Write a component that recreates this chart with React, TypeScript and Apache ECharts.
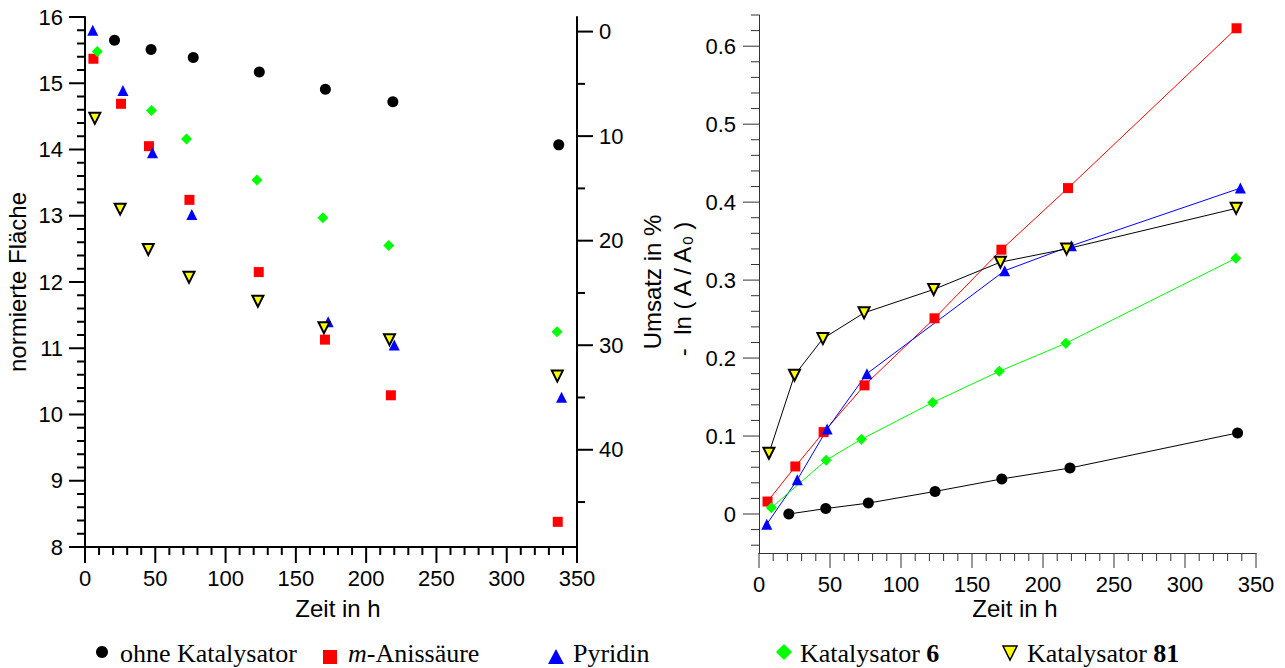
import { useEffect, useRef } from 'react';
import * as echarts from 'echarts';

// ---- data ----
const timeOhne = [21, 47, 77, 124, 171, 219, 337];
const flaecheOhne = [15.65, 15.51, 15.39, 15.17, 14.91, 14.72, 14.07];
const lnOhne = [0.0, 0.007, 0.014, 0.029, 0.045, 0.059, 0.104];

const timeAnis = [6, 25.6, 45.5, 74.3, 123.6, 170.7, 217.6, 336.3];
const flaecheAnis = [15.37, 14.69, 14.05, 13.24, 12.15, 11.13, 10.29, 8.38];
const lnAnis = [0.016, 0.061, 0.105, 0.165, 0.251, 0.339, 0.418, 0.623];

const timePyr = [5.5, 27, 48, 76, 173, 220, 339];
const flaechePyr = [15.8, 14.89, 13.95, 13.02, 11.4, 11.05, 10.26];
const lnPyr = [-0.013, 0.044, 0.109, 0.18, 0.312, 0.344, 0.418];

const timeKat6 = [8.7, 47.3, 72.2, 122.3, 169.2, 216.1, 335.8];
const flaecheKat6 = [15.48, 14.59, 14.16, 13.54, 12.97, 12.55, 11.25];
const lnKat6 = [0.008, 0.069, 0.096, 0.143, 0.183, 0.219, 0.328];

const timeKat81 = [7, 25, 45, 74, 123, 170, 216.6, 336];
const flaecheKat81 = [14.47, 13.1, 12.49, 12.07, 11.71, 11.31, 11.13, 10.58];
const lnKat81 = [0.078, 0.178, 0.225, 0.258, 0.288, 0.323, 0.34, 0.392];

// ---- tick labels ----
const zeitLabels = [0, 50, 100, 150, 200, 250, 300, 350];
const flaecheLabels = [8, 9, 10, 11, 12, 13, 14, 15, 16];
const umsatzLabels = [0, 10, 20, 30, 40];
const lnLabels = [0, 0.1, 0.2, 0.3, 0.4, 0.5, 0.6];

// minor tick positions (axis decoration only)
const minorTicks = (from: number, to: number, step: number, every: number) => {
  const out: number[] = [];
  const n = Math.round((to - from) / step);
  for (let i = 0; i <= n; i++) {
    const v = Math.round((from + i * step) * 1e6) / 1e6;
    if (Math.abs(Math.round(v / every) * every - v) > 1e-6) out.push(v);
  }
  return out;
};
const zeitMinor = minorTicks(0, 350, 10, 50);
const flaecheMinor = minorTicks(8, 16, 0.2, 1);
const umsatzMinor = minorTicks(0, 45, 5, 10);
const lnMinor = minorTicks(-0.04, 0.64, 0.02, 0.1);

const zip = (a: number[], b: number[]) => a.map((v, i) => [v, b[i]]);

const SANS = 'Liberation Sans, Arial, sans-serif';
const SERIF = 'Liberation Serif, Times New Roman, serif';

const styles = [
  { name: 'ohne Katalysator', symbol: 'circle', size: 11, color: '#000000', line: '#000000', rotate: 0, border: 0 },
  { name: 'm-Anissäure', symbol: 'rect', size: 10, color: '#ff0000', line: '#ff0000', rotate: 0, border: 0 },
  { name: 'Pyridin', symbol: 'triangle', size: 11, color: '#0000ff', line: '#0000ff', rotate: 0, border: 0 },
  { name: 'Katalysator 6', symbol: 'diamond', size: 11, color: '#00ff00', line: '#00ff00', rotate: 0, border: 0 },
  { name: 'Katalysator 81', symbol: 'triangle', size: 11, color: '#ffff00', line: '#000000', rotate: 180, border: 2 },
];

const leftData = [
  zip(timeOhne, flaecheOhne),
  zip(timeAnis, flaecheAnis),
  zip(timePyr, flaechePyr),
  zip(timeKat6, flaecheKat6),
  zip(timeKat81, flaecheKat81),
];
const rightData = [
  zip(timeOhne, lnOhne),
  zip(timeAnis, lnAnis),
  zip(timePyr, lnPyr),
  zip(timeKat6, lnKat6),
  zip(timeKat81, lnKat81),
];

// axis ranges
const ZEIT_MIN = 0, ZEIT_MAX = 350;
const FL_MIN = 8, FL_MAX = 16;
const UM_MIN = -1.394, UM_MAX = 49.3;
const LN_MIN = -0.05, LN_MAX = 0.64;

// grid rectangles
const GL = { left: 85, top: 17, width: 492, height: 530 };
const GR = { left: 759, top: 15, width: 497, height: 538 };

export default function App() {
  const ref = useRef<HTMLDivElement>(null);
  const overlayRef = useRef<HTMLDivElement>(null);

  useEffect(() => {
    if (!ref.current || !overlayRef.current) return;
    const chart = echarts.init(ref.current, undefined, { renderer: 'svg' });
    const overlay = echarts.init(overlayRef.current, undefined, { renderer: 'svg' });

    const BLK = { color: '#000', width: 2 };
    const GRY = { color: '#333', width: 1 };
    const lbl = (margin: number, values: number[], extra: any = {}) => ({
      fontSize: 22,
      color: '#000',
      fontFamily: SANS,
      margin,
      customValues: values,
      ...extra,
    });

    const baseAxis = (o: any) => ({
      type: 'value',
      splitLine: { show: false },
      axisTick: { show: false },
      ...o,
    });

    // linear axis mappings matching the grids above (for the tick marks)
    const lin = (d0: number, d1: number, p0: number, p1: number) => (v: number) =>
      p0 + ((v - d0) / (d1 - d0)) * (p1 - p0);
    const xL = lin(ZEIT_MIN, ZEIT_MAX, GL.left, GL.left + GL.width);
    const yF = lin(FL_MIN, FL_MAX, GL.top + GL.height, GL.top);
    const yU = lin(UM_MIN, UM_MAX, GL.top, GL.top + GL.height);
    const xR = lin(ZEIT_MIN, ZEIT_MAX, GR.left, GR.left + GR.width);
    const yLn = lin(LN_MIN, LN_MAX, GR.top + GR.height, GR.top);

    const mainTicks: any[] = [];
    const overlayTicks: any[] = [];
    const vt = (arr: any[], x: number, y: number, len: number, st: any) =>
      arr.push({
        type: 'line', silent: true,
        shape: { x1: x, y1: y, x2: x, y2: y + len },
        style: { stroke: st.color, lineWidth: st.width },
      });
    const ht = (arr: any[], x: number, y: number, len: number, st: any) =>
      arr.push({
        type: 'line', silent: true,
        shape: { x1: x, y1: y, x2: x + len, y2: y },
        style: { stroke: st.color, lineWidth: st.width },
      });

    const lBottom = GL.top + GL.height;
    const rBottom = GR.top + GR.height;
    // these render in the main chart
    umsatzLabels.forEach((v) => ht(mainTicks, GL.left + GL.width, yU(v), 16, BLK));
    umsatzMinor.forEach((v) => ht(mainTicks, GL.left + GL.width, yU(v), 8, BLK));
    lnLabels.forEach((v) => ht(mainTicks, GR.left, yLn(v), -16, GRY));
    lnMinor.forEach((v) => ht(mainTicks, GR.left, yLn(v), -8, GRY));
    // these go on a transparent overlay chart
    zeitLabels.forEach((v) => vt(overlayTicks, xL(v), lBottom, 16, BLK));
    zeitMinor.forEach((v) => vt(overlayTicks, xL(v), lBottom, 8, BLK));
    flaecheLabels.forEach((v) => ht(overlayTicks, GL.left, yF(v), -16, BLK));
    flaecheMinor.forEach((v) => ht(overlayTicks, GL.left, yF(v), -8, BLK));
    zeitLabels.forEach((v) => vt(overlayTicks, xR(v), rBottom, 15, GRY));
    zeitMinor.forEach((v) => vt(overlayTicks, xR(v), rBottom, 8, GRY));

    const titles: any[] = [
      {
        type: 'text', x: 338, y: 608,
        style: { text: 'Zeit in h', fontSize: 24, fontFamily: SANS, fill: '#000', align: 'center', verticalAlign: 'middle' },
      },
      {
        type: 'text', x: 1015, y: 608,
        style: { text: 'Zeit in h', fontSize: 24, fontFamily: SANS, fill: '#000', align: 'center', verticalAlign: 'middle' },
      },
      {
        type: 'text', x: 17, y: 282, rotation: Math.PI / 2,
        style: { text: 'normierte Fläche', fontSize: 24, fontFamily: SANS, fill: '#000', align: 'center', verticalAlign: 'middle' },
      },
      {
        type: 'text', x: 652, y: 282, rotation: Math.PI / 2,
        style: { text: 'Umsatz in %', fontSize: 24, fontFamily: SANS, fill: '#000', align: 'center', verticalAlign: 'middle' },
      },
      {
        type: 'text', x: 682, y: 290, rotation: Math.PI / 2,
        style: {
          text: '-  ln ( A / A{s|0} )',
          fontSize: 24, fontFamily: SANS, fill: '#000', align: 'center', verticalAlign: 'middle',
          rich: { s: { fontSize: 15, fontFamily: SANS, fill: '#000', padding: [10, 0, 0, 0] } },
        },
      },
    ];

    const legend: any[] = [
      { type: 'circle', shape: { cx: 102, cy: 652, r: 6 }, style: { fill: '#000' } },
      {
        type: 'text', x: 120, y: 653,
        style: { text: 'ohne Katalysator', fontSize: 26, fontFamily: SERIF, fill: '#000', verticalAlign: 'middle' },
      },
      { type: 'rect', shape: { x: 323, y: 650, width: 14, height: 14 }, style: { fill: '#ff0000' } },
      {
        type: 'text', x: 348, y: 653,
        style: {
          text: '{i|m}-Anissäure', fontSize: 26, fontFamily: SERIF, fill: '#000', verticalAlign: 'middle',
          rich: { i: { fontSize: 26, fontFamily: SERIF, fontStyle: 'italic', fill: '#000' } },
        },
      },
      { type: 'polygon', shape: { points: [[548, 664], [564, 664], [556, 649]] }, style: { fill: '#0000ff' } },
      {
        type: 'text', x: 573, y: 653,
        style: { text: 'Pyridin', fontSize: 26, fontFamily: SERIF, fill: '#000', verticalAlign: 'middle' },
      },
      { type: 'polygon', shape: { points: [[784, 644], [792, 652], [784, 660], [776, 652]] }, style: { fill: '#00ff00' } },
      {
        type: 'text', x: 800, y: 653,
        style: {
          text: 'Katalysator {b|6}', fontSize: 26, fontFamily: SERIF, fill: '#000', verticalAlign: 'middle',
          rich: { b: { fontSize: 26, fontFamily: SERIF, fontWeight: 'bold', fill: '#000' } },
        },
      },
      {
        type: 'polygon', shape: { points: [[1003, 646], [1017, 646], [1010, 660]] },
        style: { fill: '#ffff00', stroke: '#000', lineWidth: 1.5 },
      },
      {
        type: 'text', x: 1027, y: 653,
        style: {
          text: 'Katalysator {b|81}', fontSize: 26, fontFamily: SERIF, fill: '#000', verticalAlign: 'middle',
          rich: { b: { fontSize: 26, fontFamily: SERIF, fontWeight: 'bold', fill: '#000' } },
        },
      },
    ];

    const option: any = {
      animation: false,
      grid: [{ ...GL }, { ...GR }],
      xAxis: [
        baseAxis({
          gridIndex: 0, min: ZEIT_MIN, max: ZEIT_MAX,
          axisLine: { show: true, onZero: false, lineStyle: { ...BLK } },
          axisLabel: lbl(20, zeitLabels),
        }),
        baseAxis({
          gridIndex: 1, min: ZEIT_MIN, max: ZEIT_MAX,
          axisLine: { show: true, onZero: false, lineStyle: { ...GRY } },
          axisLabel: lbl(20, zeitLabels),
        }),
      ],
      yAxis: [
        baseAxis({
          gridIndex: 0, min: FL_MIN, max: FL_MAX,
          axisLine: { show: true, onZero: false, lineStyle: { ...BLK } },
          axisLabel: lbl(22, flaecheLabels),
        }),
        baseAxis({
          gridIndex: 0, position: 'right', inverse: true, min: UM_MIN, max: UM_MAX,
          axisLine: { show: true, onZero: false, lineStyle: { ...BLK } },
          axisLabel: lbl(22, umsatzLabels),
        }),
        baseAxis({
          gridIndex: 1, min: LN_MIN, max: LN_MAX,
          axisLine: { show: true, onZero: false, lineStyle: { ...GRY } },
          axisLabel: lbl(23, lnLabels, { formatter: (v: number) => (v === 0 ? '0' : v.toFixed(1)) }),
        }),
      ],
      series: [
        ...styles.map((s, i) => ({
          name: s.name,
          type: 'scatter',
          xAxisIndex: 0,
          yAxisIndex: 0,
          symbol: s.symbol,
          symbolSize: s.size,
          symbolRotate: s.rotate,
          itemStyle: { color: s.color, borderColor: '#000', borderWidth: s.border, opacity: 1 },
          data: leftData[i],
        })),
        ...styles.map((s, i) => ({
          name: s.name,
          type: 'line',
          xAxisIndex: 1,
          yAxisIndex: 2,
          symbol: s.symbol,
          symbolSize: s.size,
          symbolRotate: s.rotate,
          showAllSymbol: true,
          lineStyle: { color: s.line, width: 1 },
          itemStyle: { color: s.color, borderColor: '#000', borderWidth: s.border, opacity: 1 },
          data: rightData[i],
        })),
      ],
      graphic: [...titles, ...legend, ...mainTicks],
    };

    chart.setOption(option);
    overlay.setOption({ animation: false, graphic: overlayTicks });

    return () => {
      overlay.dispose();
      chart.dispose();
    };
  }, []);

  return (
    <>
      <div
        ref={ref}
        style={{ position: 'fixed', left: 0, top: 0, width: 1285, height: 668, background: '#fff', zIndex: 1 }}
      />
      <div
        ref={overlayRef}
        style={{ position: 'fixed', left: 0, top: 0, width: 1285, height: 668, zIndex: 2, pointerEvents: 'none' }}
      />
    </>
  );
}
